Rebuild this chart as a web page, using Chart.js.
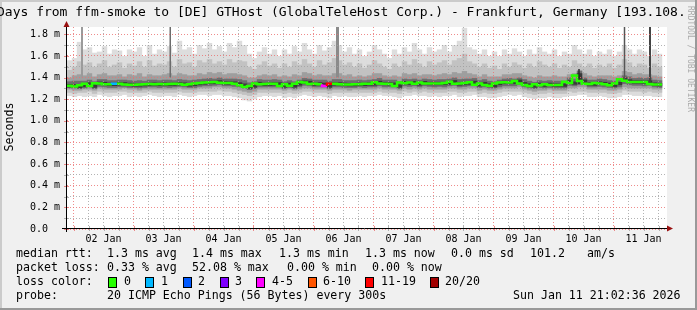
<!DOCTYPE html>
<html>
<head>
<meta charset="utf-8">
<script src="https://cdn.jsdelivr.net/npm/chart.js@4.4.1/dist/chart.umd.min.js"></script>
<style>
  html, body { margin: 0; padding: 0; background: #f0f0f0; }
  #wrap { width: 697px; height: 310px; }
</style>
</head>
<body>
<div id="wrap"><canvas id="smoke" width="697" height="310"></canvas></div>
<script>
// Time axis: hours relative to 02 Jan 00:00, one bin = 2 h
const X_MIN = -2.6;
const X_MAX = 237.4;
const BIN_HOURS = 2;
const Y_MAX = 1.8675;

const dayLabels = ["02 Jan", "03 Jan", "04 Jan", "05 Jan", "06 Jan", "07 Jan", "08 Jan", "09 Jan", "10 Jan", "11 Jan"];
const yTickLabels = ["0.0", "0.2 m", "0.4 m", "0.6 m", "0.8 m", "1.0 m", "1.2 m", "1.4 m", "1.6 m", "1.8 m"];

// median rtt (ms) per bin
const median = [
  1.325,1.325,1.318,1.328,1.342,1.322,1.348,1.345,1.338,1.338,
  1.343,1.343,1.337,1.333,1.333,1.336,1.338,1.340,1.338,1.340,
  1.338,1.340,1.343,1.340,1.333,1.338,1.345,1.350,1.355,1.356,
  1.360,1.352,1.350,1.350,1.342,1.330,1.312,1.322,1.345,1.338,
  1.340,1.343,1.342,1.322,1.338,1.324,1.342,1.358,1.355,1.340,
  1.342,1.338,1.322,1.342,1.342,1.338,1.335,1.335,1.338,1.338,
  1.342,1.342,1.356,1.345,1.342,1.340,1.322,1.354,1.348,1.354,
  1.342,1.354,1.346,1.345,1.346,1.345,1.350,1.362,1.342,1.346,
  1.350,1.356,1.334,1.346,1.332,1.325,1.345,1.355,1.356,1.355,
  1.368,1.344,1.332,1.322,1.338,1.330,1.338,1.332,1.331,1.331,
  1.362,1.350,1.420,1.368,1.342,1.340,1.350,1.345,1.338,1.330,
  1.345,1.385,1.370,1.360,1.360,1.358,1.360,1.340,1.336
];

// bins with packet loss (index into loss colors)
const lossBins = [9, 51, 52];
const lossLevels = [1, 4, 6];

// smoke bands, outermost first
const band1Hi = [
  1.56,1.58,1.73,1.66,1.68,1.63,1.64,1.69,1.62,1.66,1.65,1.60,1.66,1.64,1.68,1.60,1.70,1.62,1.66,1.64,1.69,1.63,
  1.74,1.66,1.68,1.62,1.70,1.67,1.72,1.66,1.69,1.64,1.72,1.68,1.74,1.70,1.62,1.58,1.64,1.68,1.62,1.66,
  1.60,1.66,1.62,1.69,1.64,1.72,1.66,1.62,1.70,1.65,1.68,1.74,1.70,1.64,1.68,1.62,1.66,1.60,1.64,1.70,1.66,1.62,
  1.58,1.66,1.62,1.68,1.64,1.72,1.66,1.62,1.68,1.64,1.66,1.70,1.64,1.70,1.74,1.86,1.68,1.66,1.62,1.66,1.60,1.64,
  1.60,1.66,1.62,1.67,1.64,1.60,1.66,1.62,1.68,1.64,1.62,1.66,1.60,1.64,1.62,1.70,1.66,1.62,1.66,1.60,1.64,
  1.62,1.66,1.60,1.64,1.70,1.66,1.62,1.66,1.64,1.60,1.66,1.62
];
const band1Lo = [
  1.23,1.22,1.23,1.22,1.23,1.22,1.24,1.23,1.22,1.23,
  1.23,1.24,1.22,1.23,1.22,1.23,1.24,1.23,1.22,1.23,
  1.23,1.22,1.24,1.23,1.22,1.23,1.24,1.24,1.23,1.24,
  1.24,1.23,1.23,1.22,1.21,1.19,1.18,1.20,1.22,1.23,
  1.23,1.22,1.23,1.21,1.22,1.21,1.23,1.24,1.23,1.22,
  1.23,1.22,1.21,1.23,1.22,1.23,1.22,1.22,1.23,1.22,
  1.23,1.23,1.24,1.23,1.23,1.22,1.21,1.23,1.23,1.24,
  1.23,1.23,1.22,1.23,1.22,1.23,1.23,1.24,1.22,1.23,
  1.23,1.24,1.22,1.22,1.21,1.21,1.22,1.23,1.24,1.23,
  1.24,1.22,1.21,1.20,1.21,1.21,1.22,1.21,1.21,1.22,
  1.23,1.23,1.24,1.24,1.22,1.22,1.23,1.22,1.21,1.21,
  1.22,1.24,1.24,1.23,1.23,1.23,1.23,1.22,1.22
];
const band2Hi = [
  1.47,1.50,1.55,1.52,1.54,1.50,1.53,1.56,1.50,1.52,
  1.54,1.49,1.53,1.51,1.55,1.50,1.56,1.51,1.53,1.52,
  1.55,1.50,1.57,1.53,1.54,1.50,1.56,1.54,1.57,1.53,
  1.55,1.52,1.57,1.54,1.56,1.55,1.50,1.48,1.52,1.55,
  1.51,1.53,1.49,1.53,1.50,1.55,1.52,1.57,1.53,1.50,
  1.56,1.52,1.54,1.58,1.56,1.52,1.54,1.50,1.53,1.49,
  1.52,1.56,1.53,1.50,1.48,1.53,1.50,1.55,1.52,1.57,
  1.53,1.50,1.55,1.52,1.54,1.56,1.52,1.56,1.58,1.62,
  1.55,1.53,1.50,1.53,1.49,1.51,1.48,1.53,1.50,1.54,
  1.52,1.49,1.53,1.50,1.55,1.52,1.50,1.53,1.49,1.52,
  1.50,1.56,1.53,1.50,1.53,1.49,1.52,1.50,1.53,1.49,
  1.52,1.57,1.54,1.50,1.53,1.52,1.49,1.53,1.50
];
const band2Lo = [
  1.26,1.25,1.26,1.26,1.27,1.25,1.27,1.26,1.26,1.26,
  1.27,1.27,1.26,1.26,1.26,1.26,1.27,1.26,1.26,1.26,
  1.26,1.26,1.27,1.26,1.26,1.26,1.27,1.27,1.27,1.27,
  1.28,1.27,1.27,1.26,1.25,1.24,1.23,1.24,1.26,1.26,
  1.26,1.26,1.26,1.25,1.26,1.25,1.26,1.27,1.27,1.26,
  1.26,1.26,1.25,1.26,1.26,1.26,1.26,1.26,1.26,1.26,
  1.26,1.26,1.27,1.26,1.26,1.26,1.25,1.27,1.26,1.27,
  1.26,1.27,1.26,1.26,1.26,1.26,1.27,1.27,1.26,1.26,
  1.27,1.27,1.25,1.26,1.25,1.25,1.26,1.27,1.27,1.27,
  1.27,1.26,1.25,1.24,1.25,1.25,1.26,1.25,1.25,1.25,
  1.27,1.26,1.27,1.27,1.26,1.26,1.26,1.26,1.25,1.25,
  1.26,1.28,1.27,1.27,1.27,1.26,1.27,1.26,1.26
];
const band3Hi = [
  1.40,1.42,1.43,1.42,1.44,1.41,1.43,1.44,1.42,1.42,
  1.43,1.41,1.43,1.42,1.44,1.41,1.43,1.42,1.42,1.43,
  1.44,1.42,1.44,1.43,1.42,1.42,1.44,1.43,1.45,1.44,
  1.45,1.43,1.44,1.44,1.43,1.42,1.40,1.40,1.42,1.43,
  1.42,1.43,1.41,1.42,1.41,1.43,1.42,1.45,1.44,1.42,
  1.43,1.42,1.42,1.44,1.44,1.42,1.43,1.41,1.42,1.41,
  1.42,1.44,1.44,1.42,1.41,1.42,1.41,1.44,1.43,1.44,
  1.42,1.43,1.43,1.42,1.43,1.44,1.43,1.45,1.44,1.46,
  1.44,1.43,1.41,1.43,1.41,1.41,1.41,1.43,1.43,1.44,
  1.44,1.42,1.41,1.40,1.42,1.41,1.41,1.42,1.41,1.41,
  1.43,1.44,1.47,1.44,1.42,1.41,1.42,1.42,1.42,1.41,
  1.42,1.46,1.45,1.43,1.44,1.43,1.43,1.42,1.41
];
const band3Lo = [
  1.29,1.28,1.28,1.29,1.29,1.28,1.30,1.29,1.29,1.29,
  1.29,1.30,1.29,1.29,1.28,1.29,1.29,1.29,1.29,1.29,
  1.29,1.29,1.30,1.29,1.29,1.29,1.30,1.30,1.30,1.31,
  1.31,1.30,1.30,1.29,1.28,1.27,1.26,1.27,1.29,1.29,
  1.29,1.29,1.29,1.28,1.29,1.28,1.29,1.30,1.30,1.29,
  1.29,1.29,1.28,1.29,1.29,1.29,1.28,1.29,1.29,1.29,
  1.29,1.29,1.30,1.29,1.29,1.29,1.28,1.30,1.29,1.30,
  1.29,1.30,1.29,1.29,1.29,1.29,1.30,1.30,1.29,1.29,
  1.30,1.30,1.28,1.29,1.28,1.28,1.29,1.30,1.30,1.30,
  1.31,1.29,1.28,1.27,1.28,1.28,1.29,1.28,1.28,1.28,
  1.30,1.30,1.31,1.31,1.29,1.29,1.29,1.29,1.28,1.28,
  1.29,1.31,1.30,1.30,1.30,1.30,1.30,1.29,1.29
];
const band4Hi = [
  1.365,1.37,1.37,1.37,1.38,1.365,1.385,1.385,1.375,1.375,
  1.38,1.38,1.375,1.37,1.375,1.37,1.38,1.38,1.375,1.38,
  1.38,1.375,1.385,1.38,1.375,1.38,1.385,1.39,1.395,1.39,
  1.40,1.39,1.39,1.39,1.385,1.375,1.355,1.365,1.385,1.38,
  1.38,1.385,1.38,1.365,1.375,1.365,1.38,1.395,1.39,1.38,
  1.38,1.38,1.37,1.385,1.385,1.375,1.375,1.375,1.38,1.375,
  1.38,1.385,1.395,1.38,1.38,1.38,1.365,1.39,1.385,1.39,
  1.38,1.39,1.385,1.38,1.385,1.385,1.39,1.40,1.385,1.39,
  1.39,1.395,1.375,1.385,1.37,1.365,1.38,1.39,1.395,1.39,
  1.40,1.385,1.37,1.36,1.375,1.37,1.375,1.37,1.37,1.37,
  1.40,1.39,1.46,1.40,1.38,1.38,1.39,1.385,1.375,1.37,
  1.385,1.42,1.41,1.395,1.40,1.395,1.40,1.38,1.375
];
const band4Lo = [
  1.30,1.30,1.295,1.30,1.31,1.295,1.315,1.31,1.305,1.305,
  1.31,1.31,1.305,1.305,1.30,1.305,1.31,1.31,1.305,1.31,
  1.305,1.31,1.315,1.31,1.305,1.305,1.315,1.32,1.32,1.325,
  1.33,1.32,1.32,1.315,1.31,1.30,1.285,1.295,1.31,1.31,
  1.31,1.31,1.31,1.295,1.305,1.295,1.31,1.325,1.32,1.31,
  1.31,1.31,1.295,1.31,1.31,1.305,1.305,1.305,1.31,1.305,
  1.31,1.31,1.32,1.31,1.31,1.31,1.295,1.32,1.315,1.32,
  1.31,1.32,1.315,1.31,1.315,1.31,1.32,1.325,1.31,1.315,
  1.32,1.32,1.305,1.31,1.30,1.30,1.31,1.32,1.32,1.32,
  1.33,1.31,1.30,1.295,1.305,1.30,1.305,1.30,1.30,1.30,
  1.325,1.32,1.33,1.33,1.31,1.31,1.315,1.31,1.305,1.30,
  1.31,1.34,1.33,1.325,1.325,1.32,1.325,1.31,1.305
];
const band5Hi = [
  1.34,1.34,1.332,1.342,1.356,1.336,1.362,1.36,1.352,1.352,
  1.357,1.357,1.351,1.347,1.347,1.35,1.352,1.354,1.352,1.354,
  1.352,1.354,1.357,1.354,1.347,1.352,1.36,1.365,1.37,1.37,
  1.375,1.366,1.364,1.364,1.356,1.345,1.327,1.337,1.36,1.352,
  1.354,1.357,1.356,1.337,1.352,1.338,1.356,1.372,1.37,1.354,
  1.356,1.352,1.337,1.356,1.356,1.352,1.35,1.35,1.352,1.352,
  1.356,1.356,1.37,1.36,1.356,1.354,1.337,1.368,1.362,1.368,
  1.356,1.368,1.36,1.36,1.36,1.36,1.364,1.376,1.356,1.36,
  1.364,1.37,1.348,1.36,1.346,1.34,1.36,1.37,1.37,1.37,
  1.382,1.358,1.346,1.337,1.352,1.344,1.352,1.346,1.345,1.345,
  1.376,1.364,1.44,1.382,1.356,1.354,1.364,1.36,1.352,1.344,
  1.36,1.40,1.384,1.374,1.374,1.372,1.374,1.354,1.35
];
const band5Lo = [
  1.31,1.31,1.302,1.312,1.326,1.306,1.332,1.33,1.322,1.322,
  1.327,1.327,1.321,1.317,1.317,1.32,1.322,1.324,1.322,1.324,
  1.322,1.324,1.327,1.324,1.317,1.322,1.33,1.335,1.34,1.34,
  1.345,1.336,1.334,1.334,1.326,1.315,1.297,1.307,1.33,1.322,
  1.324,1.327,1.326,1.307,1.322,1.308,1.326,1.342,1.34,1.324,
  1.326,1.322,1.307,1.326,1.326,1.322,1.32,1.32,1.322,1.322,
  1.326,1.326,1.34,1.33,1.326,1.324,1.307,1.338,1.332,1.338,
  1.326,1.338,1.33,1.33,1.33,1.33,1.334,1.346,1.326,1.33,
  1.334,1.34,1.318,1.33,1.316,1.31,1.33,1.34,1.34,1.34,
  1.352,1.328,1.316,1.307,1.322,1.314,1.322,1.316,1.315,1.315,
  1.346,1.334,1.36,1.352,1.326,1.324,1.334,1.33,1.322,1.314,
  1.33,1.37,1.354,1.344,1.344,1.342,1.344,1.324,1.32
];

// single samples with a very high max ping (hours rel. 02 Jan)
const spikeAt = [3.4, 38.7, 105.6, 202.2, 220.4, 230.6];
const spikeLo = [1.40, 1.40, 1.40, 1.34, 1.38, 1.36];
const spikeHi = [1.87, 1.87, 1.87, 1.48, 1.87, 1.87];

// styles
const BAND_COLORS = ["#dddddd", "#c2c2c2", "#9e9e9e", "#6e6e6e", "#3a3a3a"];
const SPIKE_COLORS = ["#9a9a9a", "#6c6c6c", "#8a8a8a", "#2a2a2a", "#555555", "#444444"];
const SPIKE_WIDTHS = [2, 1.5, 3, 1.5, 1.5, 2];
const LOSS_COLORS = ["#26ff00", "#00b8ff", "#0059ff", "#7e00ff", "#ff00ff", "#ff5500", "#ff0000", "#a10000"];
const LOSS_LABELS = ["0", "1", "2", "3", "4-5", "6-10", "11-19", "20/20"];
const MGRID = "rgba(235,110,110,0.8)";
const GRID = "rgba(160,160,160,0.8)";
const MONO = "'DejaVu Sans Mono', monospace";

const binCenter = i => X_MIN + BIN_HOURS * i + BIN_HOURS / 2;
const binStart = i => X_MIN + BIN_HOURS * i;
const lossOf = i => {
    const k = lossBins.indexOf(i);
    return k < 0 ? 0 : lossLevels[k];
};

// Smoke bands as floating bars
const bands = [[band1Lo, band1Hi], [band2Lo, band2Hi], [band3Lo, band3Hi], [band4Lo, band4Hi], [band5Lo, band5Hi]];
const bandSets = bands.map(([lo, hi], k) => ({
    type: "bar",
    data: median.map((_, i) => ({ x: binCenter(i), y: [lo[i], hi[i]] })),
    backgroundColor: BAND_COLORS[k],
    borderWidth: 0,
    grouped: false,
    categoryPercentage: 1,
    barPercentage: 1.08,
    order: 10 - k
}));

// Spikes: vertical line pieces separated by gaps
const spikePoints = [];
spikeAt.forEach((h, i) => {
    spikePoints.push({ x: h, y: spikeLo[i] }, { x: h, y: spikeHi[i] }, { x: h, y: null });
});

// Median as a stepped line, coloured by loss
const medianPoints = median.map((v, i) => ({ x: binStart(i), y: v }));
medianPoints.push({ x: binStart(median.length), y: median[median.length - 1] });

// Background, plot area and frame
const framePlugin = {
    id: "frame",
    beforeDraw(chart) {
        const { ctx, width, height, chartArea: a } = chart;
        ctx.save();
        ctx.fillStyle = "#f0f0f0";
        ctx.fillRect(0, 0, width, height);
        ctx.fillStyle = "#ffffff";
        ctx.fillRect(a.left, a.top, a.right - a.left, a.bottom - a.top);
        ctx.fillStyle = "#cbcbcb";
        ctx.fillRect(0, 0, width, 2);
        ctx.fillRect(0, 0, 2, height);
        ctx.fillStyle = "#999999";
        ctx.fillRect(0, height - 2, width, 2);
        ctx.fillRect(width - 2, 0, 2, height);
        ctx.restore();
    }
};

// Axes, arrows, title and the text legend
const textPlugin = {
    id: "texts",
    afterDraw(chart) {
        const { ctx, chartArea: a } = chart;
        const xs = chart.scales.x;
        const ys = chart.scales.y;
        ctx.save();

        // tick marks
        xs.ticks.forEach(t => {
            const px = Math.round(xs.getPixelForValue(t.value)) + 0.5;
            ctx.strokeStyle = t.value % 24 === 0 ? MGRID : GRID;
            ctx.beginPath();
            ctx.moveTo(px, a.bottom - 3);
            ctx.lineTo(px, a.bottom + 2);
            ctx.stroke();
        });
        ys.ticks.forEach(t => {
            const py = Math.round(ys.getPixelForValue(t.value)) + 0.5;
            ctx.strokeStyle = Math.round(t.value * 10) % 2 === 0 ? MGRID : GRID;
            ctx.beginPath();
            ctx.moveTo(a.left - 3, py);
            ctx.lineTo(a.left + 2, py);
            ctx.stroke();
        });

        // axis lines
        ctx.strokeStyle = "#000000";
        ctx.lineWidth = 1;
        ctx.beginPath();
        ctx.moveTo(62, a.bottom - 0.5);
        ctx.lineTo(a.right, a.bottom - 0.5);
        ctx.moveTo(a.left - 0.5, a.bottom + 3);
        ctx.lineTo(a.left - 0.5, a.top);
        ctx.stroke();

        // arrows
        ctx.fillStyle = "#991111";
        ctx.beginPath();
        ctx.moveTo(a.left - 3.5, a.top);
        ctx.lineTo(a.left + 2.5, a.top);
        ctx.lineTo(a.left - 0.5, a.top - 6);
        ctx.closePath();
        ctx.fill();
        ctx.beginPath();
        ctx.moveTo(a.right, a.bottom - 3.5);
        ctx.lineTo(a.right, a.bottom + 2.5);
        ctx.lineTo(a.right + 6, a.bottom - 0.5);
        ctx.closePath();
        ctx.fill();

        // title
        ctx.fillStyle = "#000000";
        ctx.textBaseline = "middle";
        ctx.textAlign = "left";
        ctx.font = "13px " + MONO;
        ctx.fillText("Days from ffm-smoke to [DE] GTHost (GlobalTeleHost Corp.) - Frankfurt, Germany [193.108.", -3, 13);

        // y axis title
        ctx.font = "11.6px " + MONO;
        ctx.save();
        ctx.translate(10, 127);
        ctx.rotate(-Math.PI / 2);
        ctx.textAlign = "center";
        ctx.fillText("Seconds", 0, 0);
        ctx.restore();

        // watermark
        ctx.save();
        ctx.font = "8px " + MONO;
        ctx.fillStyle = "#aaaaaa";
        ctx.translate(690, 6);
        ctx.rotate(Math.PI / 2);
        ctx.fillText("RRDTOOL / TOBI OETIKER", 0, 0);
        ctx.restore();

        // legend rows
        ctx.font = "11.6px " + MONO;
        const rows = [
            [254, [[16, "median rtt:"], [107, "1.3 ms avg"], [192, "1.4 ms max"], [279, "1.3 ms min"],
                   [365, "1.3 ms now"], [451, "0.0 ms sd"], [530, "101.2"], [587, "am/s"]]],
            [268, [[16, "packet loss:"], [107, "0.33 % avg"], [192, "52.08 % max"], [287, "0.00 % min"],
                   [372, "0.00 % now"]]],
            [282, [[16, "loss color:"]]],
            [296, [[16, "probe:"], [107, "20 ICMP Echo Pings (56 Bytes) every 300s"], [513, "Sun Jan 11 21:02:36 2026"]]]
        ];
        rows.forEach(([y, items]) => items.forEach(([x, s]) => ctx.fillText(s, x, y)));

        const boxX = [108, 145, 183, 220, 256, 308, 365, 430];
        const labelX = [124, 161, 198, 235, 272, 323, 381, 445];
        LOSS_LABELS.forEach((s, i) => {
            ctx.fillStyle = LOSS_COLORS[i];
            ctx.fillRect(boxX[i], 277, 8, 10);
            ctx.strokeStyle = "#000000";
            ctx.strokeRect(boxX[i] + 0.5, 277.5, 8, 10);
            ctx.fillStyle = "#000000";
            ctx.fillText(s, labelX[i], 282);
        });

        ctx.restore();
    }
};

new Chart(document.getElementById("smoke"), {
    type: "bar",
    data: {
        datasets: [
            {
                type: "line",
                data: medianPoints,
                stepped: "after",
                borderWidth: 2.5,
                borderColor: LOSS_COLORS[0],
                segment: { borderColor: c => LOSS_COLORS[lossOf(c.p0DataIndex)] },
                pointRadius: 0,
                fill: false,
                clip: 0,
                order: 0
            },
            {
                type: "line",
                data: spikePoints,
                spanGaps: false,
                borderWidth: 2,
                borderColor: SPIKE_COLORS[0],
                segment: {
                    borderColor: c => SPIKE_COLORS[Math.floor(c.p0DataIndex / 3)],
                    borderWidth: c => SPIKE_WIDTHS[Math.floor(c.p0DataIndex / 3)]
                },
                pointRadius: 0,
                fill: false,
                clip: 0,
                order: 1
            },
            ...bandSets
        ]
    },
    options: {
        responsive: false,
        animation: false,
        devicePixelRatio: 1,
        layout: { padding: { left: 0, right: 30, top: 27, bottom: 0 } },
        plugins: { legend: { display: false }, tooltip: { enabled: false } },
        scales: {
            x: {
                type: "linear",
                min: X_MIN,
                max: X_MAX,
                offset: false,
                afterFit: s => { s.height = 81; },
                afterBuildTicks: s => {
                    const t = [];
                    for (let h = 0; h < X_MAX; h += 6) t.push({ value: h });
                    s.ticks = t;
                },
                grid: {
                    offset: false,
                    drawTicks: false,
                    z: 1,
                    color: c => (c.tick && c.tick.value % 24 === 0 ? MGRID : GRID)
                },
                border: { display: false, dash: [1, 2] },
                ticks: {
                    autoSkip: false,
                    maxRotation: 0,
                    padding: 4,
                    color: "#000000",
                    font: { family: MONO, size: 10 },
                    callback: v => (v % 24 === 12 ? dayLabels[(v - 12) / 24] : "")
                }
            },
            y: {
                min: 0,
                max: Y_MAX,
                stacked: false,
                afterFit: s => { s.width = 67; },
                afterBuildTicks: s => {
                    const t = [];
                    for (let i = 0; i <= 18; i++) t.push({ value: i / 10 });
                    s.ticks = t;
                },
                grid: {
                    drawTicks: false,
                    z: 1,
                    color: c => (c.tick && Math.round(c.tick.value * 10) % 2 === 0 ? MGRID : GRID)
                },
                border: { display: false, dash: [1, 2] },
                ticks: {
                    autoSkip: false,
                    padding: 7,
                    color: "#000000",
                    font: { family: MONO, size: 10 },
                    callback: v => {
                        const i = Math.round(v * 10);
                        return i % 2 === 0 ? yTickLabels[i / 2].padEnd(5) : "";
                    }
                }
            }
        }
    },
    plugins: [framePlugin, textPlugin]
});
</script>
</body>
</html>
